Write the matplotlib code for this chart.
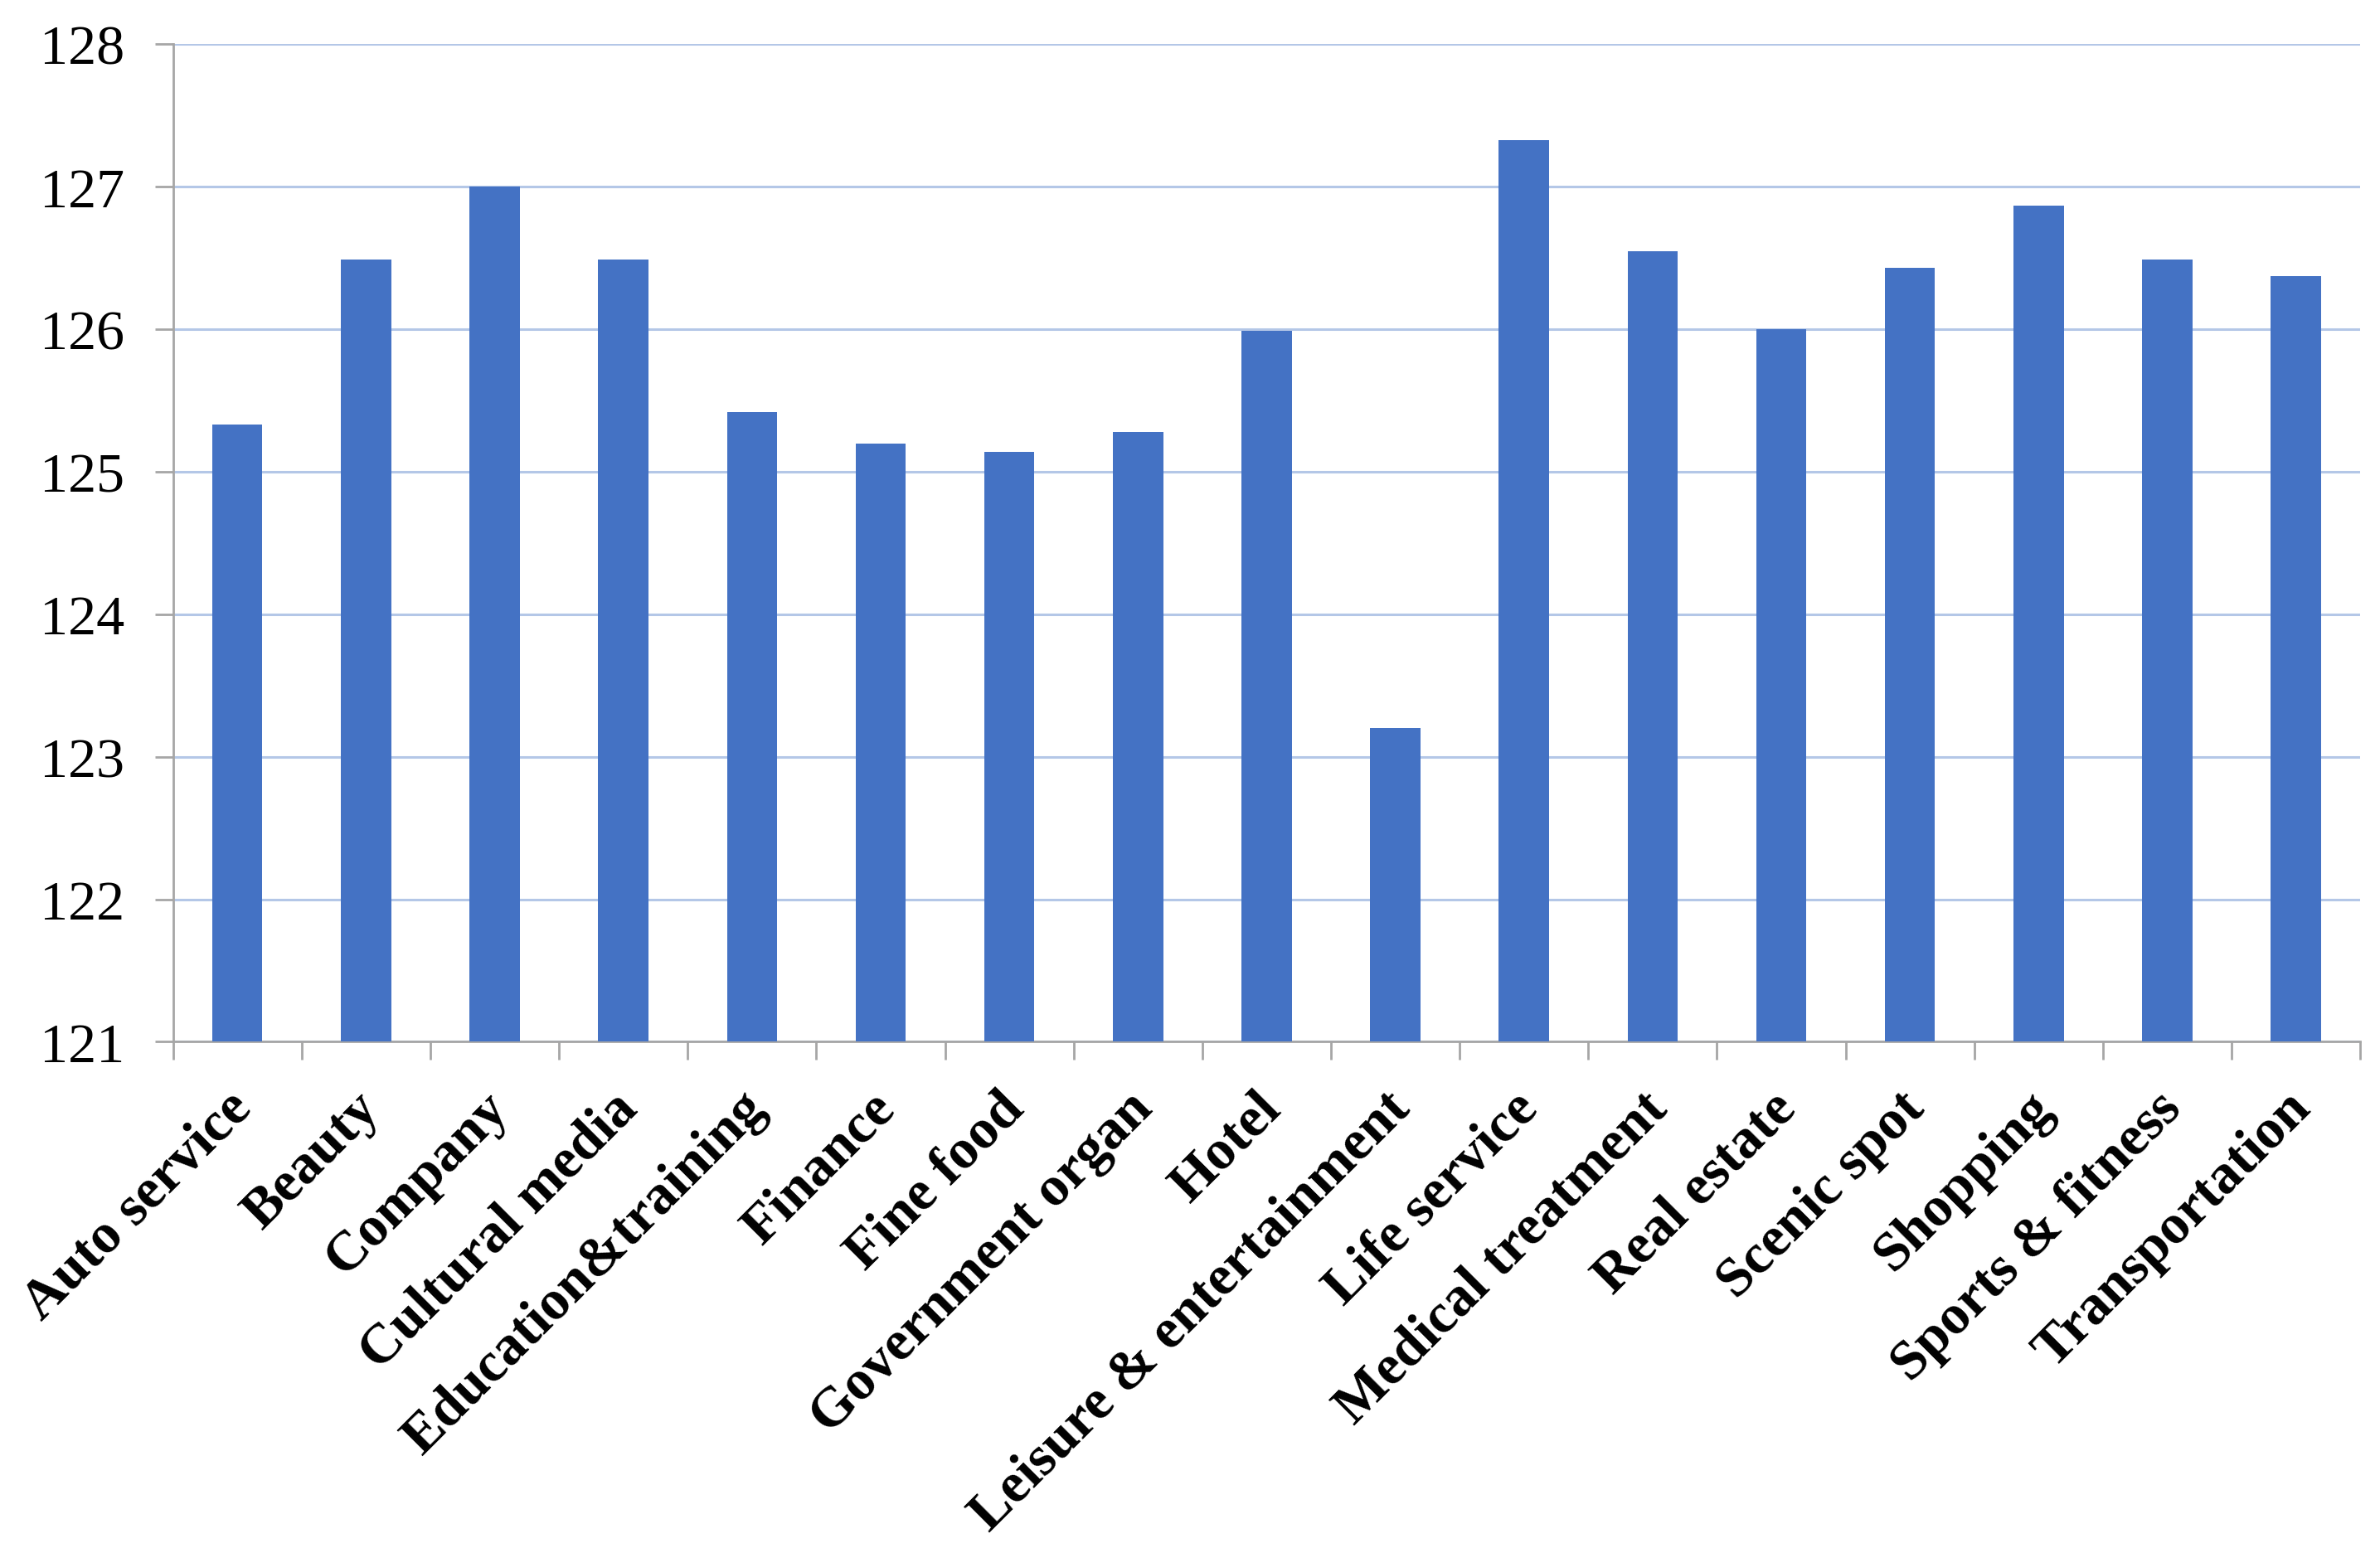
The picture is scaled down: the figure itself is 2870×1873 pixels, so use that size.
import numpy as np
import matplotlib

matplotlib.use('Agg')
import matplotlib.pyplot as plt
import matplotlib.transforms as mtransforms

categories = ['Auto service', 'Beauty', 'Company', 'Cultural media', 'Education&training',
              'Finance', 'Fine food', 'Government organ', 'Hotel', 'Leisure & entertainment',
              'Life service', 'Medical treatment', 'Real estate', 'Scenic spot', 'Shopping',
              'Sports & fitness', 'Transportation']
values = [125.33, 126.49, 127.0, 126.49, 125.42,
          125.20, 125.14, 125.28, 125.99, 123.2,
          127.33, 126.55, 126.0, 126.43, 126.87,
          126.49, 126.37]
y_ticks = [121, 122, 123, 124, 125, 126, 127, 128]

plt.rcParams['font.family'] = ['Liberation Serif', 'DejaVu Serif']

fig = plt.figure(figsize=(28.7, 18.74), dpi=100)
ax = fig.add_axes([0.0727, 0.329, 0.919, 0.642])

x = np.arange(len(categories))
base = y_ticks[0]
ax.bar(x, np.array(values) - base, bottom=base, width=0.39, color='#4472C4', zorder=3)

ax.set_ylim(y_ticks[0], y_ticks[-1])
ax.set_xlim(-0.5, len(categories) - 0.5)
ax.set_yticks(y_ticks)
ax.set_yticklabels([str(t) for t in y_ticks], fontsize=49)
ax.yaxis.grid(True, color='#b4c7e7', linewidth=2.2, zorder=0)
ax.set_axisbelow(True)

# boundary ticks on x, labels at category centres
ax.set_xticks(np.arange(-0.5, len(categories), 1.0))
ax.set_xticklabels([])
ax.set_xticks(x, minor=True)
ax.set_xticklabels(categories, minor=True, rotation=45, ha='right', va='top',
                   rotation_mode='anchor', fontsize=49, fontweight='bold')
ax.tick_params(axis='x', which='minor', length=0, pad=28)
ax.tick_params(axis='x', which='major', length=16, width=2, color='#a6a6a6', direction='out')
ax.tick_params(axis='y', length=16, width=2, color='#a6a6a6', direction='out', pad=26)

# nudge the labels a bit down-left like the original
shift = mtransforms.ScaledTranslation(-14 / 100, -10 / 100, fig.dpi_scale_trans)
for lbl in ax.get_xticklabels(minor=True):
    lbl.set_transform(lbl.get_transform() + shift)

for s in ['top', 'right']:
    ax.spines[s].set_visible(False)
for s in ['left', 'bottom']:
    ax.spines[s].set_color('#a6a6a6')
    ax.spines[s].set_linewidth(2)

fig.savefig('out.png', dpi=100)
